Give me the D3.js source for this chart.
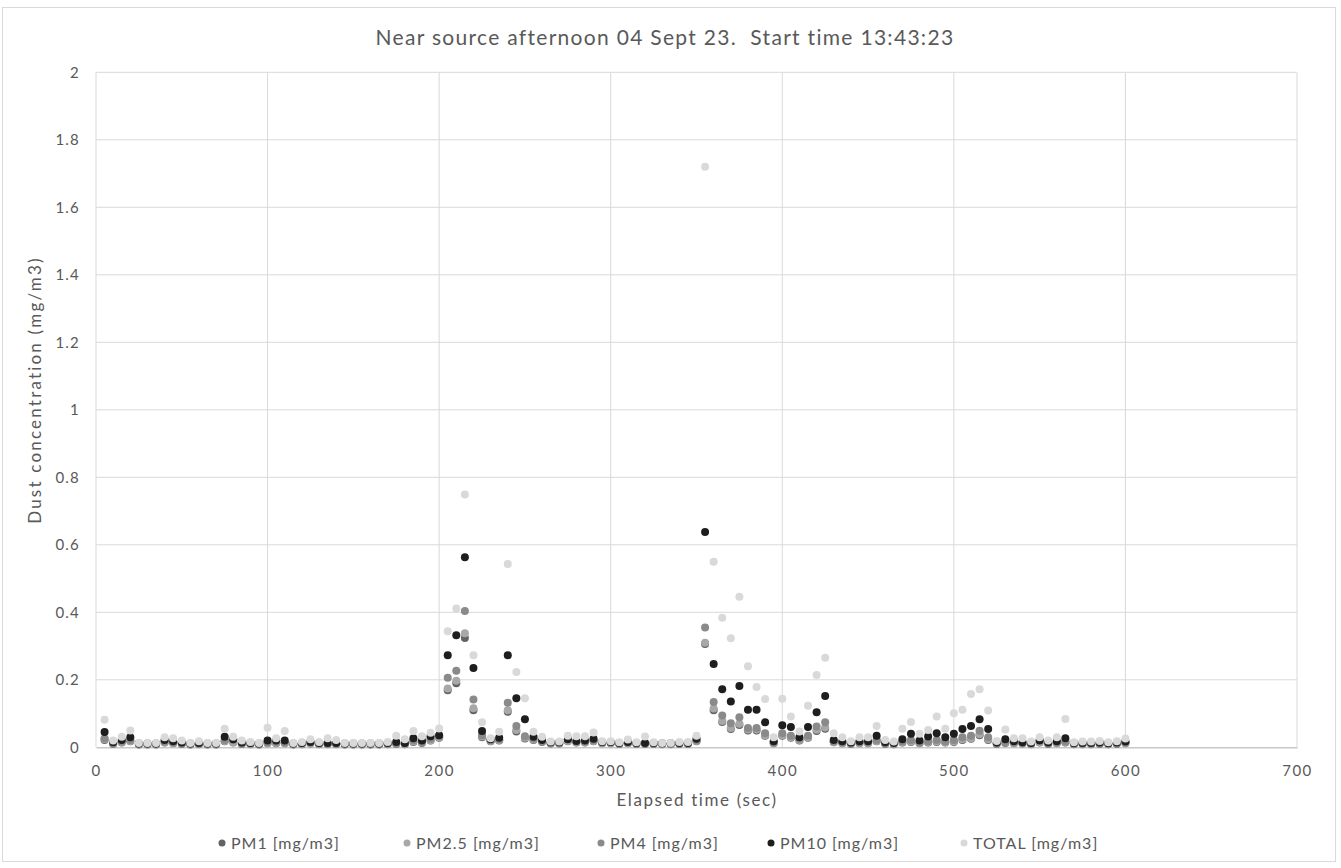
<!DOCTYPE html>
<html><head><meta charset="utf-8">
<script src="https://cdn.jsdelivr.net/npm/d3@7"></script>
<style>
body{margin:0;background:#fff;}
text{font-family:Lato,"Open Sans",sans-serif;fill:#595959;}
</style></head>
<body><svg id="c" width="1341" height="868"></svg>
<script>
const times = d3.range(5, 601, 5);
const pm1 = [0.022,0.010,0.014,0.018,0.008,0.008,0.008,0.014,0.012,0.010,0.008,0.009,0.008,0.008,0.018,0.014,0.010,0.009,0.008,0.012,
0.012,0.012,0.008,0.009,0.011,0.009,0.009,0.009,0.008,0.008,0.008,0.008,0.008,0.009,0.010,0.009,0.016,0.013,0.020,0.028,
0.169,0.190,0.324,0.110,0.030,0.018,0.020,0.105,0.047,0.026,0.022,0.016,0.011,0.011,0.018,0.014,0.014,0.018,0.012,0.012,
0.010,0.012,0.010,0.010,0.010,0.009,0.009,0.010,0.010,0.018,0.306,0.110,0.075,0.054,0.066,0.050,0.050,0.034,0.012,0.034,
0.028,0.020,0.028,0.048,0.055,0.015,0.012,0.010,0.012,0.012,0.018,0.010,0.009,0.014,0.016,0.012,0.014,0.016,0.014,0.016,
0.022,0.025,0.036,0.022,0.010,0.013,0.012,0.011,0.009,0.014,0.010,0.012,0.014,0.009,0.009,0.009,0.010,0.009,0.010,0.012];
const pm25 = [0.024,0.011,0.015,0.019,0.009,0.009,0.009,0.015,0.013,0.011,0.009,0.010,0.009,0.009,0.019,0.015,0.011,0.010,0.009,0.013,
0.013,0.013,0.009,0.010,0.012,0.010,0.010,0.010,0.009,0.009,0.009,0.009,0.009,0.010,0.011,0.010,0.017,0.014,0.021,0.030,
0.174,0.197,0.338,0.116,0.032,0.019,0.021,0.110,0.051,0.028,0.023,0.017,0.012,0.012,0.019,0.015,0.015,0.019,0.013,0.013,
0.011,0.013,0.011,0.011,0.011,0.010,0.010,0.011,0.011,0.019,0.310,0.115,0.078,0.057,0.070,0.053,0.053,0.036,0.013,0.036,
0.030,0.022,0.030,0.052,0.059,0.016,0.013,0.011,0.013,0.013,0.019,0.011,0.010,0.015,0.017,0.013,0.015,0.017,0.015,0.017,
0.024,0.027,0.039,0.024,0.011,0.014,0.013,0.012,0.010,0.015,0.011,0.013,0.015,0.010,0.010,0.010,0.011,0.010,0.011,0.013];
const pm4 = [0.026,0.012,0.017,0.022,0.010,0.010,0.010,0.017,0.015,0.012,0.010,0.011,0.010,0.010,0.022,0.022,0.012,0.011,0.010,0.015,
0.016,0.015,0.010,0.011,0.014,0.011,0.011,0.011,0.010,0.010,0.010,0.010,0.010,0.011,0.012,0.011,0.020,0.016,0.025,0.033,
0.206,0.227,0.404,0.142,0.036,0.021,0.023,0.132,0.063,0.033,0.026,0.018,0.013,0.013,0.024,0.017,0.017,0.021,0.014,0.014,
0.012,0.014,0.012,0.012,0.012,0.011,0.011,0.012,0.012,0.021,0.355,0.134,0.094,0.071,0.089,0.057,0.057,0.042,0.014,0.042,
0.034,0.025,0.034,0.062,0.074,0.018,0.015,0.012,0.015,0.015,0.022,0.012,0.011,0.017,0.022,0.015,0.018,0.022,0.018,0.022,
0.030,0.034,0.049,0.030,0.012,0.016,0.015,0.013,0.011,0.022,0.012,0.015,0.017,0.011,0.011,0.011,0.012,0.011,0.012,0.015];
const pm10 = [0.045,0.015,0.022,0.030,0.011,0.011,0.011,0.022,0.018,0.014,0.011,0.013,0.011,0.011,0.031,0.024,0.014,0.013,0.011,0.020,
0.020,0.020,0.011,0.013,0.016,0.013,0.013,0.013,0.011,0.011,0.011,0.011,0.011,0.013,0.016,0.013,0.027,0.020,0.033,0.036,
0.273,0.332,0.563,0.235,0.048,0.024,0.028,0.273,0.145,0.083,0.031,0.022,0.015,0.015,0.024,0.019,0.020,0.025,0.016,0.016,
0.013,0.016,0.013,0.013,0.013,0.012,0.012,0.013,0.013,0.025,0.638,0.247,0.172,0.136,0.182,0.111,0.111,0.074,0.018,0.065,
0.060,0.030,0.060,0.104,0.152,0.022,0.018,0.014,0.018,0.018,0.034,0.015,0.013,0.024,0.040,0.020,0.032,0.042,0.030,0.040,
0.054,0.063,0.083,0.054,0.014,0.024,0.018,0.015,0.013,0.020,0.014,0.018,0.027,0.012,0.013,0.013,0.014,0.012,0.014,0.017];
const total = [0.082,0.020,0.031,0.050,0.013,0.013,0.013,0.030,0.027,0.020,0.013,0.018,0.013,0.013,0.055,0.031,0.020,0.016,0.013,0.058,
0.027,0.048,0.013,0.016,0.024,0.016,0.027,0.022,0.013,0.013,0.013,0.013,0.013,0.016,0.034,0.024,0.048,0.033,0.043,0.056,
0.344,0.411,0.749,0.273,0.074,0.027,0.046,0.543,0.223,0.145,0.046,0.031,0.017,0.017,0.034,0.033,0.033,0.044,0.018,0.018,
0.015,0.023,0.015,0.032,0.015,0.013,0.013,0.016,0.016,0.034,1.720,0.550,0.384,0.323,0.446,0.240,0.179,0.143,0.030,0.144,
0.091,0.047,0.123,0.214,0.265,0.042,0.030,0.018,0.030,0.030,0.063,0.022,0.017,0.055,0.075,0.040,0.051,0.091,0.055,0.101,
0.111,0.158,0.172,0.109,0.019,0.053,0.027,0.027,0.017,0.030,0.020,0.030,0.084,0.015,0.017,0.017,0.019,0.015,0.018,0.026];

const seriesNames = ["PM1 [mg/m3]","PM2.5 [mg/m3]","PM4 [mg/m3]","PM10 [mg/m3]","TOTAL [mg/m3]"];
const seriesColors = ["#636363","#a8a8a8","#8a8a8a","#1e1e1e","#d9d9d9"];
const seriesValues = [pm1, pm25, pm4, pm10, total];
const xTicks = [0,100,200,300,400,500,600,700];
const yTicks = [0,0.2,0.4,0.6,0.8,1,1.2,1.4,1.6,1.8,2];

const svg = d3.select("#c");
svg.append("rect").attr("x",2.5).attr("y",7.5).attr("width",1333).attr("height",854)
  .attr("fill","#fff").attr("stroke","#d9d9d9");

const x = d3.scaleLinear().domain([0,700]).range([96,1297]);
const y = d3.scaleLinear().domain([0,2]).range([747.3,72.3]);

// gridlines
svg.append("g").selectAll("line").data(yTicks.slice(1)).join("line")
  .attr("x1",x(0)).attr("x2",x(700)).attr("y1",d=>y(d)).attr("y2",d=>y(d))
  .attr("stroke","#d9d9d9").attr("stroke-width",1);
svg.append("g").selectAll("line").data(xTicks.slice(1)).join("line")
  .attr("x1",d=>x(d)).attr("x2",d=>x(d)).attr("y1",y(0)).attr("y2",y(2))
  .attr("stroke","#d9d9d9").attr("stroke-width",1);
svg.append("line").attr("x1",x(0)).attr("x2",x(0)).attr("y1",y(0)).attr("y2",y(2))
  .attr("stroke","#d9d9d9");

// axes
const xAxis = d3.axisBottom(x).tickValues(xTicks).tickSize(0).tickPadding(18).tickFormat(d3.format("d"));
const gx = svg.append("g").attr("transform",`translate(0,${y(0)})`).call(xAxis);
gx.select(".domain").attr("stroke","#c8c8c8").attr("stroke-width",1.5);
gx.selectAll("text").attr("font-size",15).attr("letter-spacing",1.5).style("fill","#595959");

const yAxis = d3.axisLeft(y).tickValues(yTicks).tickSize(0).tickPadding(16).tickFormat(d=>String(+d.toFixed(1)));
const gy = svg.append("g").attr("transform",`translate(${x(0)},0)`).call(yAxis);
gy.select(".domain").remove();
gy.selectAll("text").attr("font-size",15).attr("letter-spacing",1.2).style("fill","#595959");

// points
seriesValues.forEach((vals,i)=>{
  svg.append("g").selectAll("circle").data(vals.map((v,j)=>({t:times[j],v}))).join("circle")
    .attr("cx",d=>x(d.t)).attr("cy",d=>y(d.v)).attr("r",4)
    .attr("fill",seriesColors[i]);
});

// title and axis titles
svg.append("text").attr("x",665).attr("y",45).attr("text-anchor","middle")
  .attr("font-size",21).attr("letter-spacing",1.3).attr("xml:space","preserve")
  .text("Near source afternoon 04 Sept 23.  Start time 13:43:23");
svg.append("text").attr("x",697).attr("y",806).attr("text-anchor","middle")
  .attr("font-size",17).attr("letter-spacing",1.6).text("Elapsed time (sec)");
svg.append("text").attr("transform","translate(41,390) rotate(-90)").attr("text-anchor","middle")
  .attr("font-size",17).attr("letter-spacing",2.2).text("Dust concentration (mg/m3)");

// legend
const legX = [222, 407, 601, 771, 964];
const leg = svg.append("g");
seriesNames.forEach((n,i)=>{
  leg.append("circle").attr("cx",legX[i]).attr("cy",843).attr("r",3.5).attr("fill",seriesColors[i]);
  leg.append("text").attr("x",legX[i]+9).attr("y",848.5).attr("font-size",16).attr("letter-spacing",1).text(n);
});
</script></body></html>
